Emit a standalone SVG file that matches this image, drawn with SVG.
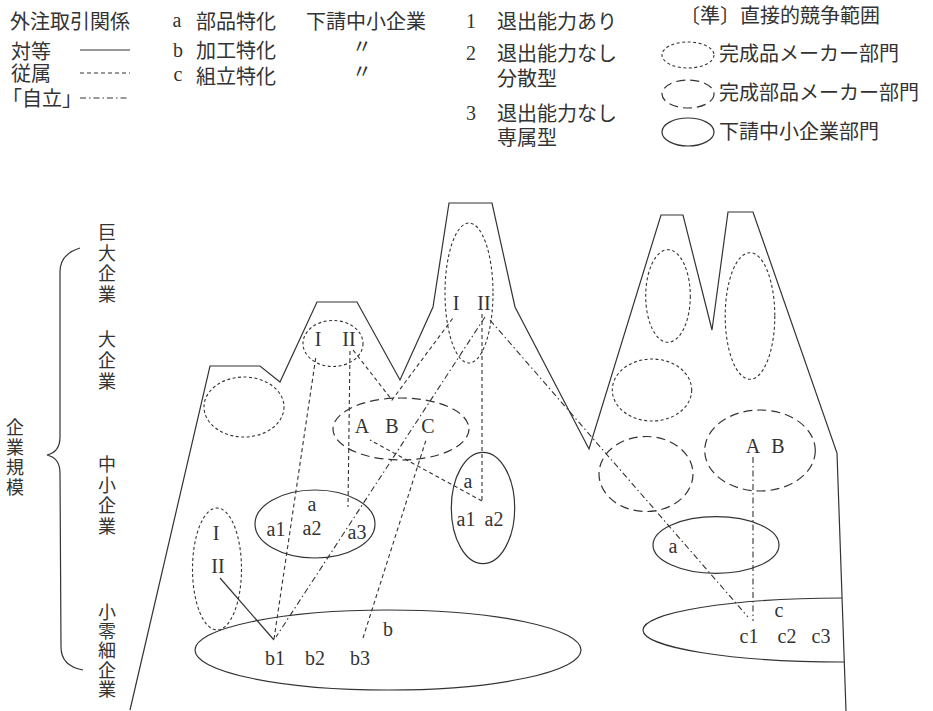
<svg xmlns="http://www.w3.org/2000/svg" width="933" height="711" viewBox="0 0 933 711">
<style>
text{fill:#333;font-size:20px}
.jp{font-family:"Noto Sans CJK JP","Noto Sans CJK SC",sans-serif}
.vt{font-family:"Noto Sans CJK JP","Noto Sans CJK SC",sans-serif;font-size:18px;writing-mode:vertical-rl}
.lt{font-family:"Liberation Serif","DejaVu Serif",serif;text-anchor:middle}
.ln{fill:none;stroke:#333;stroke-width:1.2}
.solid{fill:none;stroke:#333;stroke-width:1.2}
.dot{fill:none;stroke:#333;stroke-width:1.1;stroke-dasharray:3 2.5}
.dash{fill:none;stroke:#333;stroke-width:1.2;stroke-dasharray:9 5}
.sub{fill:none;stroke:#333;stroke-width:1.1;stroke-dasharray:4 3}
.ind{fill:none;stroke:#333;stroke-width:1.1;stroke-dasharray:6 3 1.5 3}
</style>
<rect width="933" height="711" fill="#fff"/>

<g id="legend-relations">
<text class="jp" x="10" y="29">外注取引関係</text>
<text class="jp"><tspan x="11" y="59">対等</tspan><tspan x="11" y="81">従属</tspan><tspan x="2" y="106">「自立」</tspan></text>
<line class="solid" x1="80" y1="50" x2="130" y2="50"/>
<line class="sub" x1="80" y1="73" x2="130" y2="73"/>
<line class="ind" x1="80" y1="98" x2="128" y2="98"/>
</g>

<g id="legend-types">
<text class="lt"><tspan x="177" y="27">a</tspan><tspan x="178" y="57">b</tspan><tspan x="178" y="81">c</tspan></text>
<text class="jp"><tspan x="196" y="29">部品特化</tspan><tspan x="196" y="58">加工特化</tspan><tspan x="196" y="84">組立特化</tspan></text>
<text class="jp" x="306" y="29">下請中小企業</text>
<text class="jp"><tspan x="352" y="54">〃</tspan><tspan x="352" y="79">〃</tspan></text>
</g>

<g id="legend-exit">
<text class="lt"><tspan x="471" y="28">1</tspan><tspan x="471" y="60">2</tspan><tspan x="471" y="120">3</tspan></text>
<text class="jp" x="497" y="29">退出能力あり</text>
<text class="jp"><tspan x="497" y="61">退出能力なし</tspan><tspan x="497" y="86">分散型</tspan></text>
<text class="jp"><tspan x="497" y="121">退出能力なし</tspan><tspan x="497" y="145">専属型</tspan></text>
</g>

<g id="legend-range">
<text class="jp" x="680" y="23">〔準〕直接的競争範囲</text>
<ellipse class="dot" cx="688" cy="55" rx="26" ry="13"/>
<text class="jp" x="719" y="61">完成品メーカー部門</text>
<ellipse class="dash" cx="688" cy="94" rx="26" ry="14"/>
<text class="jp" x="719" y="100">完成部品メーカー部門</text>
<ellipse class="solid" cx="688" cy="132" rx="26" ry="14"/>
<text class="jp" x="719" y="139">下請中小企業部門</text>
</g>

<g id="scale-axis">
<path class="ln" d="M80,248 Q60,254 60,272 L60,437 Q60,452 47,455 Q60,458 60,473 L61,647 Q61,666 83,670"/>
<text class="vt" x="15" y="418" letter-spacing="2">企業規模</text>
<text class="vt" x="107" y="223" letter-spacing="2.7">巨大企業</text>
<text class="vt" x="107" y="330" letter-spacing="3">大企業</text>
<text class="vt" x="107" y="455" letter-spacing="2.7">中小企業</text>
<text class="vt" x="107" y="603" letter-spacing="1.3">小零細企業</text>
</g>

<g id="mountain">
<path class="ln" d="M130,710 L210,366 L260,366 L280,382 L317,302 L357,302 L400,380 L433,307 L449,203 L492,203 L515,307 L589,449 L661,215 L683,215 L712,330 L728,212 L753,212 L837,453 L846,711"/>
</g>

<g id="connectors">
<line class="solid" x1="220" y1="578" x2="274" y2="640"/>
<line class="sub" x1="274" y1="639" x2="316" y2="356"/>
<line class="sub" x1="350" y1="351" x2="348" y2="507"/>
<polyline class="sub" points="353,350 392,400 453,318"/>
<line class="sub" x1="482" y1="501" x2="370" y2="440"/>
<line class="sub" x1="482" y1="314" x2="482" y2="501"/>
<line class="sub" x1="363" y1="638" x2="426" y2="440"/>
<line class="ind" x1="485" y1="317" x2="276" y2="637"/>
<line class="ind" x1="490" y1="320" x2="748" y2="617"/>
<line class="ind" x1="753" y1="457" x2="753" y2="621"/>
</g>

<g id="n-left-maker">
<ellipse class="dot" cx="244" cy="407" rx="40" ry="30"/>
</g>
<g id="n-large-maker">
<ellipse class="dot" cx="333" cy="343.5" rx="30" ry="23"/>
<text class="lt" x="318" y="346">I</text>
<text class="lt" x="349" y="346">II</text>
</g>
<g id="n-giant-maker">
<ellipse class="dot" cx="469" cy="293" rx="24" ry="70"/>
<text class="lt" x="456" y="310">I</text>
<text class="lt" x="484" y="310">II</text>
</g>
<g id="n-parts-ABC">
<ellipse class="dash" cx="401" cy="429" rx="68" ry="31"/>
<text class="lt" x="362" y="433">A</text>
<text class="lt" x="392" y="433">B</text>
<text class="lt" x="428" y="433">C</text>
</g>
<g id="n-sub-a-left">
<ellipse class="solid" cx="315" cy="524" rx="60" ry="34"/>
<text class="lt" x="312" y="511">a</text>
<text class="lt" x="276" y="536">a1</text>
<text class="lt" x="312" y="535">a2</text>
<text class="lt" x="357" y="539">a3</text>
</g>
<g id="n-sub-a-mid">
<ellipse class="solid" cx="483" cy="508" rx="31.7" ry="55.7"/>
<text class="lt" x="468" y="488">a</text>
<text class="lt" x="466" y="526">a1</text>
<text class="lt" x="494" y="526">a2</text>
</g>
<g id="n-small-maker">
<ellipse class="dot" cx="217" cy="569" rx="24.5" ry="61"/>
<text class="lt" x="216" y="540">I</text>
<text class="lt" x="218" y="573">II</text>
</g>
<g id="n-sub-b">
<ellipse class="solid" cx="388" cy="650" rx="193" ry="40"/>
<text class="lt" x="388" y="636">b</text>
<text class="lt" x="275" y="665">b1</text>
<text class="lt" x="315" y="665">b2</text>
<text class="lt" x="360" y="665">b3</text>
</g>
<g id="n-right-maker-1">
<ellipse class="dot" cx="668" cy="296" rx="22.3" ry="46.3"/>
</g>
<g id="n-right-maker-2">
<ellipse class="dot" cx="750" cy="316" rx="24.8" ry="63.3"/>
</g>
<g id="n-right-maker-3">
<ellipse class="dot" cx="652" cy="390" rx="39.7" ry="31"/>
</g>
<g id="n-right-parts-1">
<ellipse class="dash" cx="646" cy="474" rx="47" ry="37.5"/>
</g>
<g id="n-right-parts-AB">
<ellipse class="dash" cx="760" cy="450.5" rx="55.3" ry="40.5"/>
<text class="lt" x="753" y="453">A</text>
<text class="lt" x="778" y="453">B</text>
</g>
<g id="n-right-sub-a">
<ellipse class="solid" cx="716" cy="545" rx="63" ry="28.3"/>
<text class="lt" x="673" y="553">a</text>
</g>
<g id="n-right-sub-c">
<path class="solid" d="M842,598 A200,32 0 0 0 844,662"/>
<text class="lt" x="779" y="617">c</text>
<text class="lt" x="749" y="643">c1</text>
<text class="lt" x="787" y="643">c2</text>
<text class="lt" x="821" y="643">c3</text>
</g>
</svg>
